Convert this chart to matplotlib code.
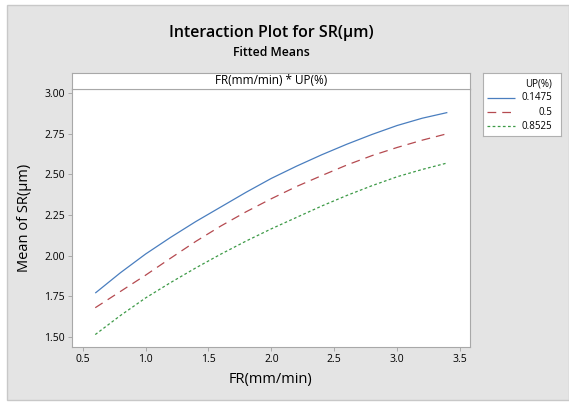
import matplotlib
matplotlib.use('Agg')
import matplotlib.pyplot as plt
from matplotlib.patches import Rectangle
from matplotlib.lines import Line2D

# dados
fr = [0.6, 0.8, 1.0, 1.2, 1.4, 1.6, 1.8, 2.0, 2.2, 2.4, 2.6, 2.8, 3.0, 3.2, 3.4]
up_labels = ['0.1475', '0.5', '0.8525']
sr_01475 = [1.77, 1.895, 2.01, 2.113, 2.21, 2.30, 2.39, 2.475, 2.55, 2.62,
            2.685, 2.745, 2.80, 2.845, 2.88]
sr_05 = [1.68, 1.78, 1.88, 1.985, 2.088, 2.183, 2.27, 2.35, 2.425, 2.492,
         2.557, 2.615, 2.665, 2.71, 2.75]
sr_08525 = [1.515, 1.632, 1.74, 1.835, 1.925, 2.01, 2.09, 2.165, 2.235, 2.305,
            2.37, 2.43, 2.485, 2.53, 2.57]
x_ticks = [0.5, 1.0, 1.5, 2.0, 2.5, 3.0, 3.5]
y_ticks = [1.50, 1.75, 2.00, 2.25, 2.50, 2.75, 3.00]

series = [sr_01475, sr_05, sr_08525]
cores = ['#4a7ebf', '#b54a50', '#3d9a47']
estilos = [(0, ()), (0, (7, 4.8)), (0, (2.2, 1.9))]

plt.rcParams['font.family'] = ['Open Sans', 'DejaVu Sans']

W, H = 569, 403
fig = plt.figure(figsize=(W / 100, H / 100), dpi=100)
fig.patch.set_facecolor('white')

def fx(px):
    return px / W

def fy(py):
    return 1 - py / H

# fundo cinza com borda
fundo = Rectangle((fx(7), fy(400)), fx(562), 395 / H, transform=fig.transFigure,
                  facecolor='#e4e4e4', edgecolor='#c8c8c8', lw=1, zorder=-10)
fig.add_artist(fundo)

# eixo principal
ax = fig.add_axes([fx(72), fy(347), fx(470 - 72), (347 - 89) / H])
for s, c, ls in zip(series, cores, estilos):
    ax.plot(fr, s, color=c, linestyle=ls, linewidth=0.9)

ax.set_xlim(0.415, 3.58)
ax.set_ylim(1.4385, 3.0246)
ax.set_xticks(x_ticks)
ax.set_xticklabels([f'{v:.1f}' for v in x_ticks])
ax.set_yticks(y_ticks)
ax.set_yticklabels([f'{v:.2f}' for v in y_ticks])
ax.tick_params(labelsize=7.5, length=3, width=0.6, color='#a0a0a0', pad=2)
for sp in ax.spines.values():
    sp.set_color('#a8a8a8')
    sp.set_linewidth(0.8)

ax.set_xlabel('FR(mm/min)', fontsize=10.5, labelpad=5)
ax.set_ylabel('Mean of SR(µm)', fontsize=10.5, labelpad=9)

# faixa do painel
strip = fig.add_axes([fx(72), fy(89), fx(470 - 72), (89 - 73) / H])
strip.set_xticks([])
strip.set_yticks([])
for sp in strip.spines.values():
    sp.set_color('#a8a8a8')
    sp.set_linewidth(0.8)
strip.text(0.5, 0.5, 'FR(mm/min) * UP(%)', ha='center', va='center', fontsize=8.5,
           transform=strip.transAxes)

# titulos
fig.text(fx(271), fy(33), 'Interaction Plot for SR(µm)', ha='center', va='center',
         fontsize=11.5, fontweight='semibold')
fig.text(fx(271), fy(52), 'Fitted Means', ha='center', va='center', fontsize=8.8,
         fontweight='semibold')

# legenda
leg = fig.add_axes([fx(483), fy(136), fx(561 - 483), (136 - 73) / H])
leg.set_xlim(0, 78)
leg.set_ylim(63, 0)
leg.set_xticks([])
leg.set_yticks([])
for sp in leg.spines.values():
    sp.set_color('#b0b0b0')
    sp.set_linewidth(0.8)
leg.text(69, 11, 'UP(%)', ha='right', va='center', fontsize=7)
for i, (lab, c, ls) in enumerate(zip(up_labels, cores, estilos)):
    yy = 25 + i * 14
    leg.add_line(Line2D([4, 32], [yy, yy], color=c, linestyle=ls, linewidth=0.9))
    leg.text(69, yy, lab, ha='right', va='center', fontsize=7)

fig.savefig('out.png', dpi=100)
